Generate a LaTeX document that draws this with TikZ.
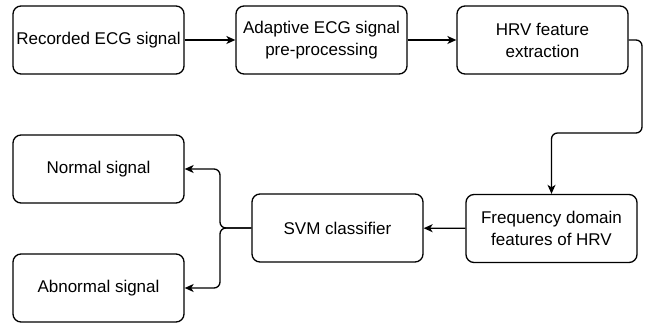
\documentclass[tikz,border=0pt]{standalone}
\usepackage{fontspec}
\setmainfont{Liberation Sans}
\usetikzlibrary{arrows.meta}
\begin{document}
\begin{tikzpicture}[x=1pt, y=-1pt,
  box/.style={draw, line width=1.3pt, rounded corners=8pt,
    minimum width=171pt, minimum height=68pt, inner sep=0pt,
    align=center, font=\fontsize{17}{22}\selectfont},
  link/.style={line width=1.3pt, rounded corners=6pt,
    -{Stealth[length=9pt, width=8pt, inset=2.5pt]}}]
\useasboundingbox (0,0) rectangle (645,323);

% processing chain (top row)
\node[box] (rec)  at (98.5, 40)  {Recorded ECG signal};
\node[box] (pre)  at (321.5, 40) {Adaptive ECG signal\\pre-processing};
\node[box] (hrv)  at (542.5, 40) {HRV feature\\extraction};

% features and classification (bottom rows)
\node[box] (freq) at (551.5, 228.5) {Frequency domain\\features of HRV};
\node[box] (svm)  at (337.5, 228)   {SVM classifier};
\node[box] (norm) at (98.5, 169)    {Normal signal};
\node[box] (abn)  at (98.5, 288)    {Abnormal signal};

% routing points
\coordinate (turn)  at (642, 133);
\coordinate (split) at (220, 228);

\draw[link] (rec) -- (pre);
\draw[link] (pre) -- (hrv);
\draw[link] (hrv.east) -| (turn) -| (freq.north);
\draw[link] (freq) -- (svm);
\draw[link] (svm.west) -- (split) |- (norm.east);
\draw[link] (svm.west) -- (split) |- (abn.east);
\end{tikzpicture}
\end{document}
